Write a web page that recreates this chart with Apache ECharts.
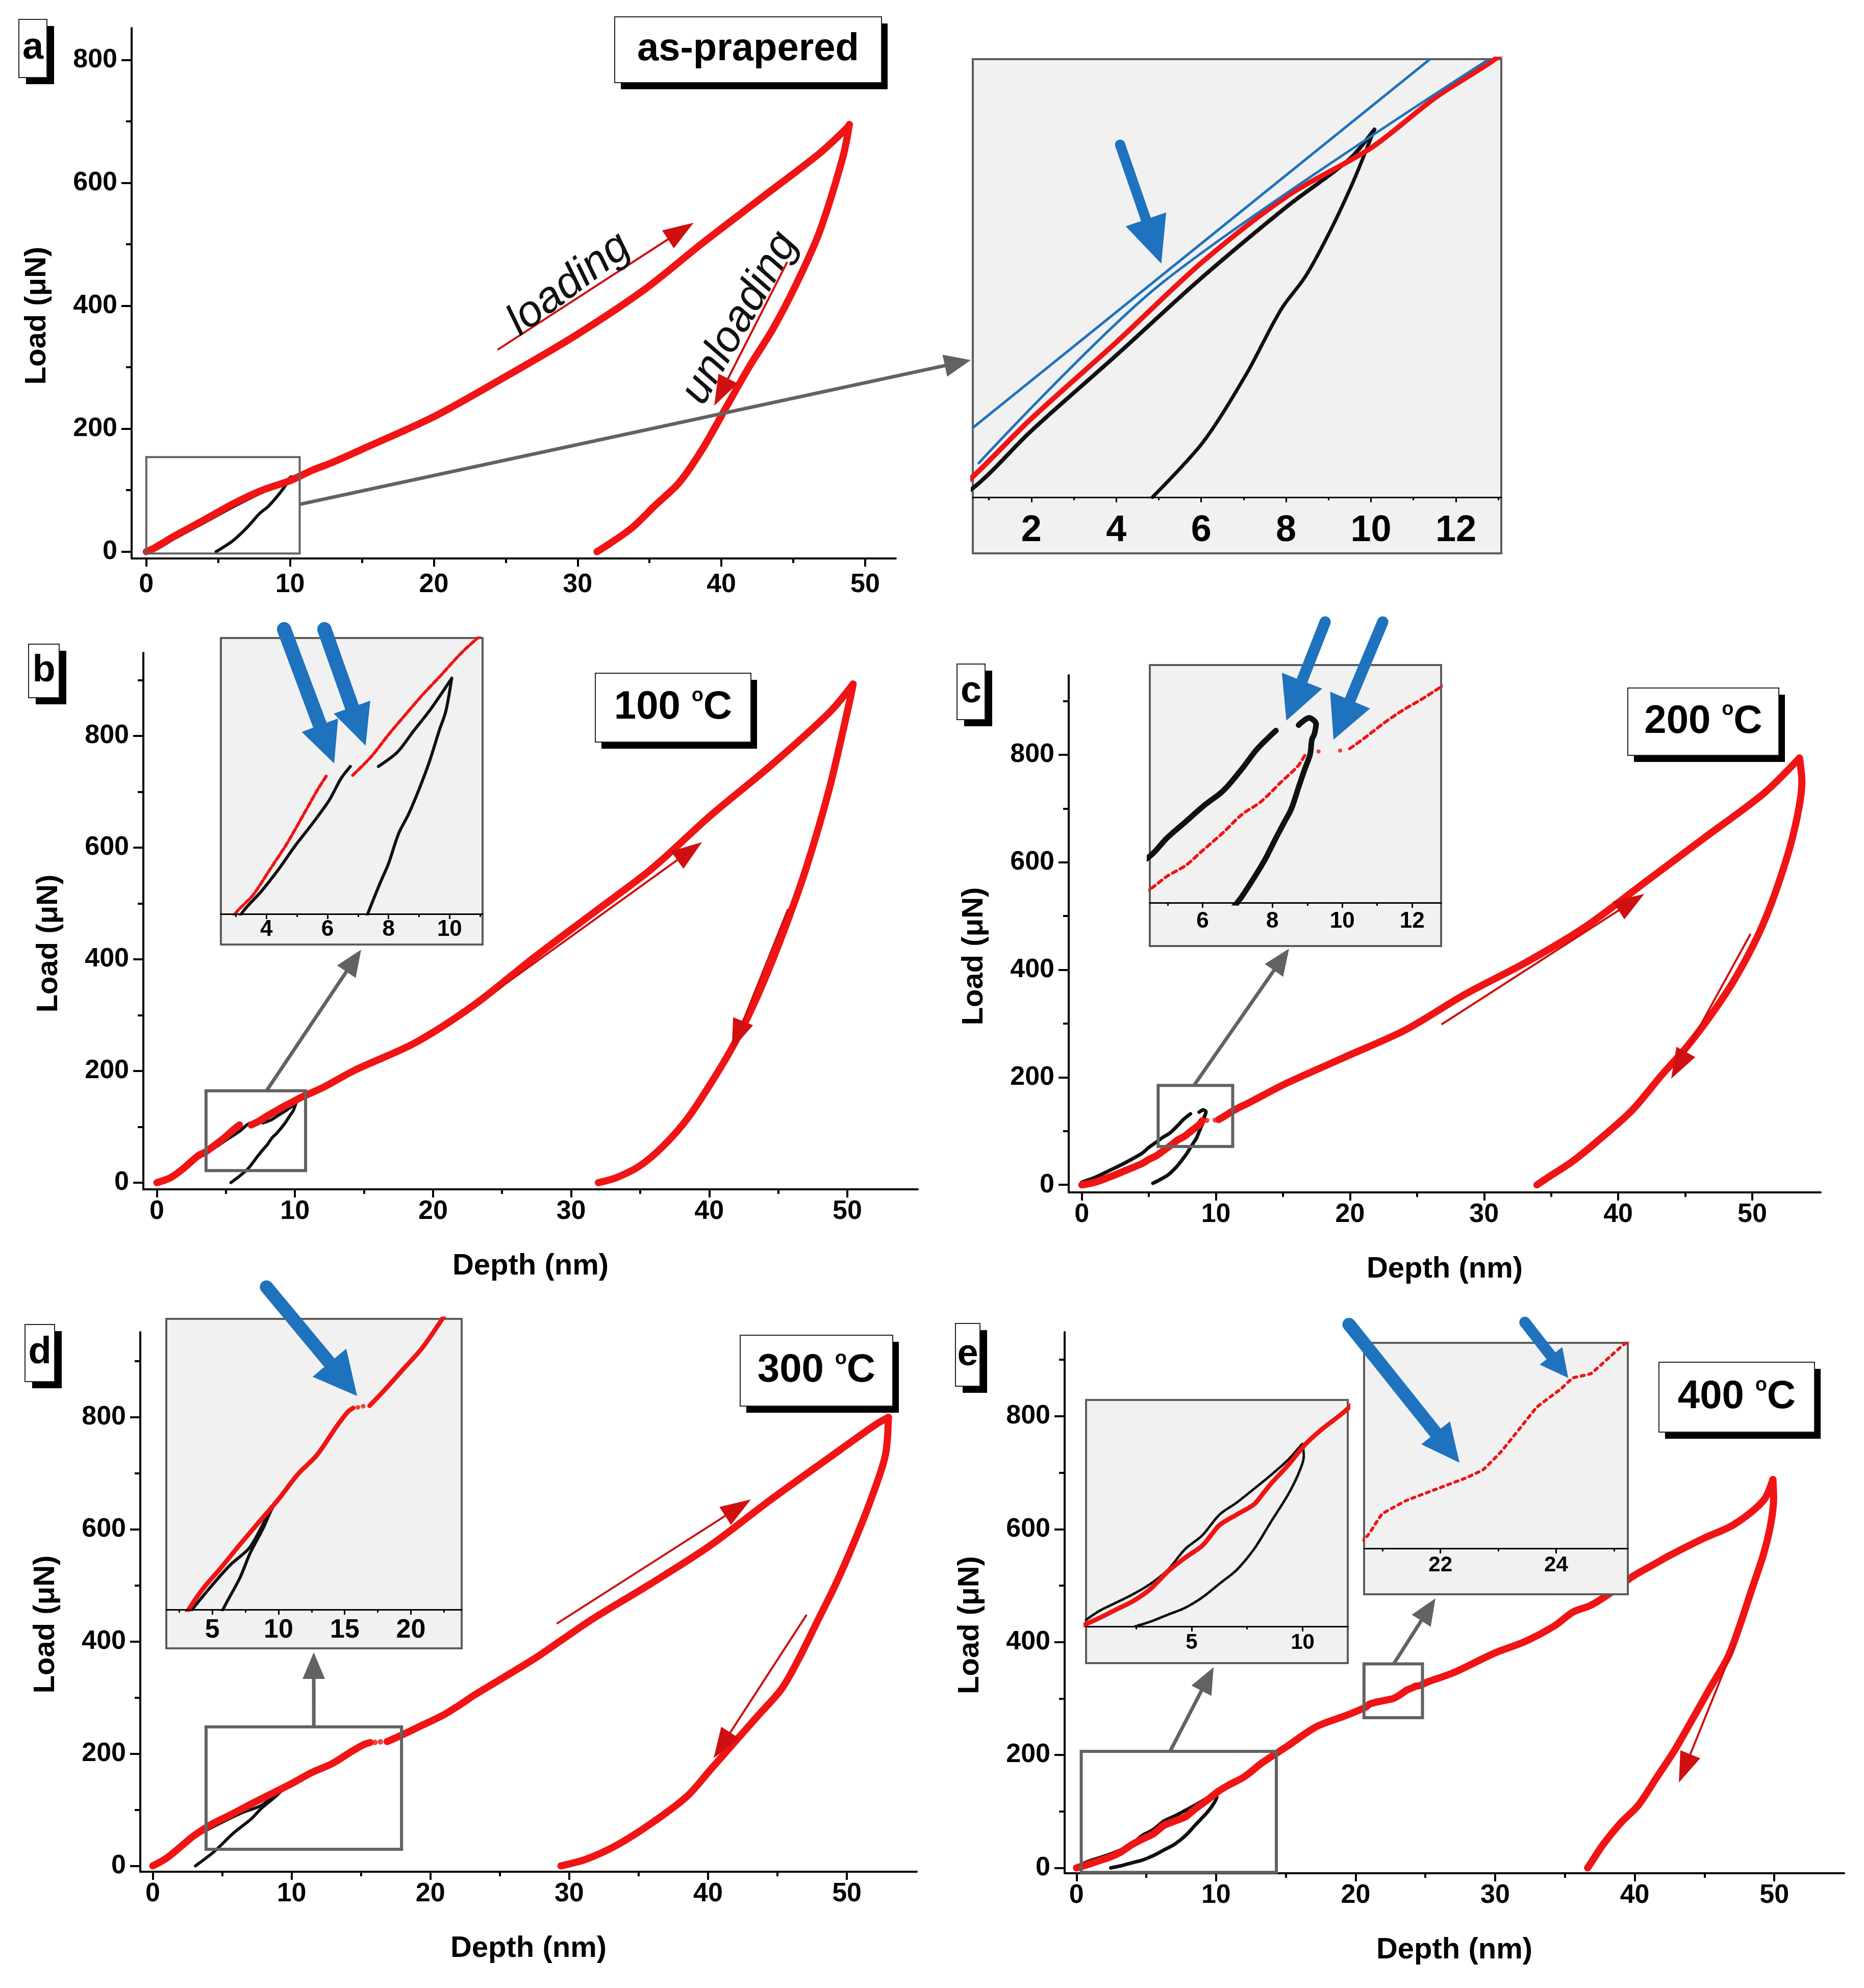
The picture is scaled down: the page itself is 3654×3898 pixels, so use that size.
<!DOCTYPE html>
<html>
<head>
<meta charset="utf-8">
<script src="https://cdn.jsdelivr.net/npm/echarts@6/dist/echarts.min.js"></script>
<style>
html,body{margin:0;padding:0;background:#fff;}
#chart{width:3654px;height:3898px;}
</style>
</head>
<body>
<div id="chart"></div>
<script>
// ---------------- DATA ----------------
// Panel a : as-prapered  [depth nm, load uN]
const aLoadRed = [[0,0],[0.62,6.8],[1.98,25.8],[4.0,51.3],[6.03,77.9],[8.06,100],[10.0,115.6],[11.52,132.3],[12.87,144.5],[15.07,167.3],[19.95,219],[24.84,282.9],[29.72,349.8],[34.61,425.9],[38.68,502],[42.75,575],[46.82,648],[48.78,690.5],[48.9,695]];
const aUnloadRed = [[48.9,695],[48.45,642],[46.82,520],[45.2,435],[43.57,362],[41.94,301],[40.31,234],[38.68,167],[37.05,112],[35.42,76],[33.79,39],[32.16,12],[31.35,0]];
const aLoadBlack = [[0,0],[0.62,3],[2,22],[4,47],[6,72.5],[8,96],[9.5,112],[10.08,121.7]];
const aUnloadBlack = [[10.08,121.7],[10.0,118.9],[9.58,104.4],[9.07,89],[8.47,73.4],[7.88,62.1],[7.04,40.2],[6.03,18],[4.85,0]];
const aFitLine1 = [[0.62,23],[11.39,145]];
const aFitLine2 = [[0.76,11.3],[5.1,71.2],[12.78,145]];

// Panel b : 100 C
const bLoadRed1 = [[0,0],[1,9],[2,27],[2.95,47.6],[3.56,55.5],[4.12,65.8],[4.67,76],[5.23,87.9],[5.67,97.4],[5.98,103.3]];
const bLoadRed2 = [[6.83,103.3],[7.44,110.8],[8.0,119.5],[8.55,127.4],[9.11,135.3],[9.66,142.4],[10.44,152.7],[12,170],[14.38,202],[18.67,250],[22.96,318],[27.25,402],[31.54,482],[35.83,562],[40.12,658],[44.41,746],[48.7,842],[50.42,893]];
const bUnloadRed = [[50.42,893],[50.2,865.5],[48.7,705.7],[47.0,561.8],[45.27,441.9],[43.56,338],[41.84,250],[40.12,178],[38.4,114],[36.69,66],[34.97,30],[33.26,8.8],[31.97,0]];
const bLoadBlack1 = [[0,0],[1,6],[2,23],[3.18,48],[3.84,57.1],[4.4,65.8],[4.95,75.3],[5.5,83.9],[6.06,93.4],[6.45,102.1],[6.75,106.8]];
const bLoadBlack2 = [[7.67,106.8],[8.28,112.4],[8.83,121.1],[9.39,129.8],[10.05,141.6]];
const bUnloadBlack = [[10.07,142],[9.88,129],[9.66,121.1],[9.33,108.4],[8.99,97.4],[8.66,87.9],[8.33,80],[8.0,68.1],[7.72,60.2],[7.33,48.4],[6.6,25],[5.9,10],[5.36,0]];

// Panel c : 200 C
const cLoadRed1 = [[0,0],[1,5],[2,14],[3,24],[4.49,39.6],[4.98,47.1],[5.52,53.5],[6.05,63],[6.59,72.6],[7.13,83.2],[7.67,90.6],[8.21,101.3],[8.75,111.9],[8.97,119.3]];
const cSparseRed = [[9.32,119.9],[9.94,120.4]];
const cLoadRed2 = [[10.21,121.5],[10.64,127.8],[11.18,136.3],[11.72,143.8],[12.26,150.2],[12.83,157.6],[15.26,189],[19.71,238.7],[24.16,288.5],[28.6,354.8],[33.05,412.8],[37.5,479.2],[41.95,562],[46.4,645],[50.85,728],[53.52,794]];
const cUnloadRed = [[53.52,794],[53.7,750],[53.07,653],[51.74,545],[50.4,462.6],[48.62,379.6],[46.85,313.4],[45.07,255.3],[43.29,205.6],[41.06,139.3],[38.84,89.5],[36.61,43.9],[34.83,14.9],[33.94,0]];
const cLoadBlack = [[0,5],[1,14],[2,26],[3,38],[4.49,58.8],[4.98,69.4],[5.52,79],[6.05,88.5],[6.59,97],[7.13,109.8],[7.57,121.5],[8.1,132.1]];
const cUnloadBlack = [[8.75,135.3],[9.05,139.5],[9.25,136],[9.2,130],[9.13,126.8],[9.08,118.3],[8.91,108.7],[8.75,99.1],[8.54,86.4],[8.32,77.9],[8.1,69.4],[7.78,56.6],[7.4,43.9],[7.03,32.7],[6.4,18],[5.7,8],[5.3,3]];

// Panel d : 300 C
const dLoadRed1 = [[0,0],[1,14],[2,34],[2.97,54],[4.2,73.7],[5.65,91.7],[7.1,110.6],[8.55,128.7],[10.0,146.7],[11.45,166.6],[12.9,182.1],[14.35,204.5],[15.22,216.6],[15.65,220]];
const dSparseRed = [[16.0,220.4],[16.4,221.3]];
const dLoadRed2 = [[16.88,221.7],[17.97,233.8],[19.42,251],[20.87,268.2],[22.32,290.5],[23.12,304],[27.39,368],[29.52,404],[31.66,440],[35.92,504],[40.19,572],[44.45,652],[48.72,728],[52.13,788],[52.99,800]];
const dUnloadRed = [[52.99,800],[52.77,732],[51.71,652],[50.43,572],[49.15,500],[47.87,436],[46.59,372],[45.31,316],[43.6,268],[41.89,220],[40.19,172],[38.48,124],[35.92,76],[33.36,36],[31.23,12],[29.4,0]];
const dLoadBlack = [[0,0],[1,13],[2,32],[3.19,54],[4.93,77.1],[6.38,94.3],[7.83,108.1],[9.27,135.6],[9.78,144.2]];
const dUnloadBlack = [[9.78,144.2],[9.42,137.3],[8.84,123.5],[7.83,102.9],[7.1,84],[5.8,58.2],[4.4,25],[3.07,0]];

// Panel e : 400 C
const eLoadRed = [[0,0],[0.83,6.1],[1.6,12.5],[2.38,18.9],[3.16,27.9],[3.93,40.7],[4.71,50.9],[5.48,59.8],[5.87,67.5],[6.26,75.2],[7.03,82.9],[7.81,90.5],[8.2,98.2],[8.58,105.9],[9.36,119.9],[10.14,135.3],[10.91,146.8],[12.03,161.5],[13.33,186.7],[15.04,214.5],[17.18,250],[19.32,270],[20.73,284.8],[20.99,290],[21.4,293.1],[21.92,295.8],[22.43,298.4],[22.74,300.4],[23.05,304.6],[23.36,309.8],[23.67,315],[24.08,319.2],[24.29,321.8],[24.6,322.8],[24.91,326.5],[25.17,329.6],[27.0,345.6],[30.0,381],[32.14,401],[34.27,429],[35.56,453],[36.84,465],[38.12,484.6],[39.83,516],[41.54,540],[42.39,552],[44.96,584],[47.09,608],[49.23,651],[49.9,688]];
const eUnloadRed = [[49.9,688],[49.95,655],[49.75,610],[49.23,556],[48.38,493],[47.52,429],[46.67,373],[45.38,318],[44.1,262],[42.82,207],[41.54,159],[40.26,111],[38.97,79],[37.69,40],[36.84,8],[36.62,0]];
const eLoadBlack = [[0.25,4.9],[0.83,11.3],[1.6,17.6],[2.38,24],[3.16,31.7],[3.93,41.9],[4.71,57.3],[5.48,67.5],[6.26,82.9],[7.03,91.8],[7.81,102],[8.58,112.3],[9.36,123.8],[9.98,135.3]];
const eUnloadBlack = [[10.0,135.3],[10.05,126.3],[9.82,113.6],[9.36,98.2],[8.58,77.7],[7.81,57.3],[7.03,41.9],[6.26,31.7],[5.48,21.5],[4.71,13.8],[3.93,8.7],[3.16,3.6],[2.46,0]];

// Tick labels
const mainXTicks = [0,10,20,30,40,50];
const mainXMinor = [5,15,25,35,45];
const mainYTicks = [0,200,400,600,800];
const mainYMinor = [100,300,500,700,900];
const insetATicks = [2,4,6,8,10,12], insetAMinor = [1,3,5,7,9,11,13];
const insetBTicks = [4,6,8,10], insetBMinor = [3,5,7,9,11];
const insetCTicks = [6,8,10,12], insetCMinor = [5,7,9,11];
const insetDTicks = [5,10,15,20], insetDMinor = [2.5,7.5,12.5,17.5,22.5];
const insetE1Ticks = [5,10], insetE1Minor = [2.5,7.5];
const insetE2Ticks = [22,24], insetE2Minor = [21,23,25];

// Texts
const panelLetters = ['a','b','c','d','e'];
const panelTitles = ['as-prapered','100','200','300','400'];
const yName = 'Load (\u03bcN)';
const xName = 'Depth (nm)';

// ---------------- LAYOUT / STYLE ----------------
const FONT = "'Liberation Sans', Arial, Helvetica, sans-serif";
const RED = '#f01414', DARKRED = '#d01010', BLACK = '#111111', BLUE = '#1f72bd', GRAY = '#626262';
const SM = 0.3;

const MAIN = {
  a:{rect:[258,55,1498,1040], x:[-1.02,52.13], y:[-11,852], xName:null, xMargin:26},
  b:{rect:[281,1280,1518,1052], x:[-0.98,55.1], y:[-12,949], xName:xName, xMargin:18},
  c:{rect:[2095,1324,1474,1014], x:[-0.98,55.1], y:[-14,948], xName:xName, xMargin:18},
  d:{rect:[275,2612,1522,1058], x:[-0.9,55.03], y:[-10.4,952], xName:xName, xMargin:18},
  e:{rect:[2087,2612,1528,1061], x:[-0.85,55], y:[-9.5,949], xName:xName, xMargin:18}
};
const INSET = {
  a:{rect:[1907,116,1036,859], x:[0.62,13.07], y:[0,145], box:[1907,116,2943,1085], fs:72, margin:30, ticks:insetATicks, minor:insetAMinor},
  b:{rect:[433,1251,513,541], x:[2.51,11.08], y:[48,158], box:[433,1251,946,1852], fs:44, margin:9, ticks:insetBTicks, minor:insetBMinor},
  c:{rect:[2254,1304,571,466], x:[4.49,12.83], y:[31.7,170.3], box:[2254,1304,2825,1855], fs:44, margin:15, ticks:insetCTicks, minor:insetCMinor},
  d:{rect:[326,2586,579,570], x:[1.52,23.84], y:[58.2,291.4], box:[326,2586,905,3232], fs:52, margin:15, ticks:insetDTicks, minor:insetDMinor},
  e1:{rect:[2129,2745,513,444], x:[0.25,12.03], y:[0,167.9], box:[2129,2745,2642,3261], fs:42, margin:11, ticks:insetE1Ticks, minor:insetE1Minor},
  e2:{rect:[2674,2633,517,403], x:[20.68,25.24], y:[282,330], box:[2674,2633,3191,3126], fs:42, margin:12, ticks:insetE2Ticks, minor:insetE2Minor}
};

const option = {backgroundColor:'#ffffff', animation:false, grid:[], xAxis:[], yAxis:[], series:[]};

function addAxis(dim, gi, range, majors, minors, st) {
  const arr = dim === 'x' ? option.xAxis : option.yAxis;
  const pos = dim === 'x' ? 'bottom' : 'left';
  const ax = {
    gridIndex: gi, type: 'value', min: range[0], max: range[1], position: pos, z: st.z,
    axisLine: {show: true, onZero: false, lineStyle: {color: '#000', width: st.lw}},
    axisTick: {show: true, inside: false, length: st.tl, lineStyle: {color: '#000', width: st.lw}, customValues: majors},
    axisLabel: {show: true, customValues: majors, margin: st.margin, fontSize: st.fs, fontWeight: 'bold', color: '#000', fontFamily: FONT},
    minorTick: {show: false}, splitLine: {show: false}, splitArea: {show: false}
  };
  if (st.name) {
    ax.name = st.name; ax.nameLocation = 'middle'; ax.nameGap = st.nameGap;
    ax.nameTextStyle = {fontSize: st.nfs, fontWeight: 'bold', color: '#000', fontFamily: FONT, padding: st.namePad || 0};
    if (dim === 'y') ax.nameRotate = 90;
  }
  arr.push(ax);
  const idx = arr.length - 1;
  if (minors && minors.length) {
    arr.push({
      gridIndex: gi, type: 'value', min: range[0], max: range[1], position: pos, z: st.z,
      axisLine: {show: false, onZero: false},
      axisTick: {show: true, inside: false, length: st.mtl, lineStyle: {color: '#000', width: st.lw}, customValues: minors},
      axisLabel: {show: false}, splitLine: {show: false}
    });
  }
  return idx;
}

function addLine(xi, yi, data, color, width, opt) {
  opt = opt || {};
  option.series.push({
    type: 'line', xAxisIndex: xi, yAxisIndex: yi, data: data, silent: true,
    showSymbol: false, symbol: 'none', smooth: opt.smooth === undefined ? SM : opt.smooth,
    lineStyle: {color: color, width: width, type: opt.type || 'solid', cap: 'round', join: 'round'},
    z: opt.z || 2, clip: true, animation: false
  });
}
function addDots(xi, yi, data, color, size, z) {
  option.series.push({type: 'scatter', xAxisIndex: xi, yAxisIndex: yi, data: data, silent: true,
    symbol: 'circle', symbolSize: size, itemStyle: {color: color}, z: z || 2, animation: false});
}

const G = {}; // axis indices
function mainPanel(key) {
  const m = MAIN[key];
  const gi = option.grid.push({left: m.rect[0], top: m.rect[1], width: m.rect[2], height: m.rect[3], show: false}) - 1;
  const xi = addAxis('x', gi, m.x, mainXTicks, mainXMinor, {lw: 4, tl: 16, mtl: 9, fs: 52, margin: m.xMargin, z: 3, name: m.xName, nameGap: 122, nfs: 58});
  const yi = addAxis('y', gi, m.y, mainYTicks, mainYMinor, {lw: 4, tl: 20, mtl: 11, fs: 52, margin: 28, z: 3, name: yName, nameGap: 156, nfs: 58, namePad: [0, 88, 0, 0]});
  G[key] = {gi: gi, xi: xi, yi: yi};
  return G[key];
}
function insetPanel(key) {
  const s = INSET[key];
  const gi = option.grid.push({left: s.rect[0], top: s.rect[1], width: s.rect[2], height: s.rect[3], show: false}) - 1;
  const xi = addAxis('x', gi, s.x, s.ticks, s.minor, {lw: 3, tl: 10, mtl: 6, fs: s.fs, margin: s.margin, z: 12});
  option.yAxis.push({gridIndex: gi, type: 'value', min: s.y[0], max: s.y[1], show: false, splitLine: {show: false}});
  const yi = option.yAxis.length - 1;
  G['i' + key] = {gi: gi, xi: xi, yi: yi};
  return G['i' + key];
}

// Panel a
let A = mainPanel('a');
addLine(A.xi, A.yi, aLoadBlack, BLACK, 6);
addLine(A.xi, A.yi, aUnloadBlack, BLACK, 6);
addLine(A.xi, A.yi, aLoadRed, RED, 14);
addLine(A.xi, A.yi, aUnloadRed, RED, 14);
let IA = insetPanel('a');
addLine(IA.xi, IA.yi, aLoadBlack, BLACK, 8, {z: 10, type: [4, 2]});
addLine(IA.xi, IA.yi, aUnloadBlack, BLACK, 7, {z: 10, type: [4, 2]});
addLine(IA.xi, IA.yi, aLoadRed, RED, 10, {z: 10});
addLine(IA.xi, IA.yi, aFitLine1, BLUE, 5, {z: 11, smooth: 0});
addLine(IA.xi, IA.yi, aFitLine2, BLUE, 5, {z: 11, smooth: 0.3});

// Panel b
let B = mainPanel('b');
[bLoadBlack1, bLoadBlack2, bUnloadBlack].forEach(d => addLine(B.xi, B.yi, d, BLACK, 6));
[bLoadRed1, bLoadRed2, bUnloadRed].forEach(d => addLine(B.xi, B.yi, d, RED, 14));
let IB = insetPanel('b');
[bLoadBlack1, bLoadBlack2, bUnloadBlack].forEach(d => addLine(IB.xi, IB.yi, d, BLACK, 6, {z: 10, type: [5, 2]}));
[bLoadRed1, bLoadRed2].forEach(d => addLine(IB.xi, IB.yi, d, RED, 6, {z: 10, type: [10, 5]}));

// Panel c
let C = mainPanel('c');
[cLoadBlack, cUnloadBlack].forEach(d => addLine(C.xi, C.yi, d, BLACK, 7));
[cLoadRed1, cLoadRed2, cUnloadRed].forEach(d => addLine(C.xi, C.yi, d, RED, 14));
addDots(C.xi, C.yi, cSparseRed, RED, 10);
let IC = insetPanel('c');
[cLoadBlack, cUnloadBlack].forEach(d => addLine(IC.xi, IC.yi, d, BLACK, 11, {z: 10, type: [5, 2]}));
[cLoadRed1, cLoadRed2].forEach(d => addLine(IC.xi, IC.yi, d, RED, 6, {z: 10, type: [9, 8]}));
addDots(IC.xi, IC.yi, cSparseRed, RED, 8, 10);

// Panel d
let D = mainPanel('d');
[dLoadBlack, dUnloadBlack].forEach(d => addLine(D.xi, D.yi, d, BLACK, 6));
[dLoadRed1, dLoadRed2, dUnloadRed].forEach(d => addLine(D.xi, D.yi, d, RED, 14));
addDots(D.xi, D.yi, dSparseRed, RED, 11);
let ID = insetPanel('d');
[dLoadBlack, dUnloadBlack].forEach(d => addLine(ID.xi, ID.yi, d, BLACK, 6, {z: 10}));
[dLoadRed1, dLoadRed2].forEach(d => addLine(ID.xi, ID.yi, d, RED, 9, {z: 10}));
addDots(ID.xi, ID.yi, dSparseRed, RED, 9, 10);

// Panel e
let E = mainPanel('e');
[eLoadBlack, eUnloadBlack].forEach(d => addLine(E.xi, E.yi, d, BLACK, 7, {type: [5, 2]}));
[eLoadRed, eUnloadRed].forEach(d => addLine(E.xi, E.yi, d, RED, 14));
let IE1 = insetPanel('e1');
[eLoadBlack, eUnloadBlack].forEach(d => addLine(IE1.xi, IE1.yi, d, BLACK, 5, {z: 10, type: [5, 3]}));
addLine(IE1.xi, IE1.yi, eLoadRed, RED, 9, {z: 10});
let IE2 = insetPanel('e2');
addLine(IE2.xi, IE2.yi, eLoadRed, RED, 6, {z: 10, type: [6, 9], smooth: 0.1});

const chart = echarts.init(document.getElementById('chart'), null, {renderer: 'canvas', devicePixelRatio: 1});
chart.setOption(option);

// ---------------- ANNOTATIONS ----------------
function toPx(g, pt) { return chart.convertToPixel({xAxisIndex: g.xi, yAxisIndex: g.yi}, pt); }
function arrowEls(p0, p1, w, hl, hw, color, z, roundTail) {
  const dx = p1[0] - p0[0], dy = p1[1] - p0[1], L = Math.hypot(dx, dy);
  const ux = dx / L, uy = dy / L, nx = -uy, ny = ux;
  const bx = p1[0] - ux * hl, by = p1[1] - uy * hl;
  const pts = [[p0[0] + nx * w / 2, p0[1] + ny * w / 2], [bx + nx * w / 2, by + ny * w / 2], [bx + nx * hw / 2, by + ny * hw / 2],
    [p1[0], p1[1]], [bx - nx * hw / 2, by - ny * hw / 2], [bx - nx * w / 2, by - ny * w / 2], [p0[0] - nx * w / 2, p0[1] - ny * w / 2]];
  const els = [{type: 'polygon', z: z, silent: true, shape: {points: pts}, style: {fill: color}}];
  if (roundTail) els.push({type: 'circle', z: z, silent: true, shape: {cx: p0[0], cy: p0[1], r: w / 2}, style: {fill: color}});
  return els;
}
const gfx = [];
// inset backgrounds
Object.keys(INSET).forEach(k => {
  const b = INSET[k].box;
  gfx.push({type: 'rect', z: 5, silent: true, shape: {x: b[0], y: b[1], width: b[2] - b[0], height: b[3] - b[1]},
    style: {fill: '#f1f1f1', stroke: '#5c5c5c', lineWidth: 4}});
});
// zoom boxes in main panels (data coords)
const zoomBoxes = [[G.a, [0, -3, 10.67, 153.9], 4], [G.b, [3.56, 21.6, 10.77, 164.6], 6], [G.c, [5.69, 71.3, 11.25, 184.9], 6],
  [G.d, [3.84, 29.6, 17.92, 248], 6], [G.e, [0.34, -8, 14.32, 206.5], 6], [G.e, [20.6, 266, 24.79, 361.4], 6]];
zoomBoxes.forEach(zb => {
  const p0 = toPx(zb[0], [zb[1][0], zb[1][3]]), p1 = toPx(zb[0], [zb[1][2], zb[1][1]]);
  gfx.push({type: 'rect', z: 6, silent: true, shape: {x: p0[0], y: p0[1], width: p1[0] - p0[0], height: p1[1] - p0[1]},
    style: {fill: 'none', stroke: GRAY, lineWidth: zb[2]}});
});
// connectors (from main data coords to inset frame)
const connectors = [[G.a, [10.67, 77], [1903, 706]], [G.b, [7.94, 164.6], [708, 1862]], [G.c, [8.36, 184.9], [2527, 1860]],
  [G.d, [11.6, 248], [615, 3240]], [G.e, [6.71, 206.5], [2379, 3269]], [G.e, [22.73, 361.4], [2814, 3134]]];
connectors.forEach(c => { arrowEls(toPx(c[0], c[1]), c[2], 7, 52, 44, GRAY, 30).forEach(e => gfx.push(e)); });
// red loading/unloading arrows
const redArrows = [[G.a, [24.43, 328.5], [38.07, 535.3]], [G.a, [44.58, 471.5], [39.5, 237.3]],
  [G.b, [24.68, 346], [39.48, 609.8]], [G.b, [45.71, 489.9], [41.63, 238.2]],
  [G.c, [26.82, 298.4], [41.95, 541.3]], [G.c, [49.87, 466.7], [43.95, 197.3]],
  [G.d, [29.1, 432], [43.09, 653.6]], [G.d, [47.1, 448], [40.4, 192]],
  [G.e, [47.18, 397.2], [43.16, 151]]];
redArrows.forEach(r => { arrowEls(toPx(r[0], r[1]), toPx(r[0], r[2]), 4, 60, 42, DARKRED, 30).forEach(e => gfx.push(e)); });
// blue arrows (inset data coords)
const blueArrows = [[G.ia, [4.09, 116.7], [5.06, 77.3], 20, 92, 84],
  [G.ib, [4.58, 161.5], [6.22, 108], 28, 80, 76], [G.ib, [5.9, 161.5], [7.25, 115.1], 28, 80, 76],
  [G.ic, [9.51, 195.4], [8.4, 137.9], 22, 84, 85], [G.ic, [11.16, 195.4], [9.75, 126.8], 22, 84, 85],
  [G.id, [9.09, 317], [15.94, 229.5], 26, 85, 86],
  [G.ie2, [20.42, 334.3], [22.33, 302], 26, 75, 72], [G.ie2, [23.46, 334.8], [24.21, 321.8], 22, 55, 56]];
blueArrows.forEach(b => { arrowEls(toPx(b[0], b[1]), toPx(b[0], b[2]), b[3], b[4], b[5], BLUE, 40, true).forEach(e => gfx.push(e)); });
// loading / unloading text
const notes = [[G.a, [29.4, 435], 'loading', 37], [G.a, [41.3, 380], 'unloading', 60]];
notes.forEach(n => {
  const p = toPx(n[0], n[1]);
  gfx.push({type: 'text', z: 30, silent: true, x: p[0], y: p[1], rotation: n[3] * Math.PI / 180,
    style: {text: n[2], fill: '#111', fontSize: 86, fontStyle: 'italic', fontFamily: FONT, align: 'center', verticalAlign: 'middle'}});
});
// title boxes
const titleBoxes = [[1205, 33, 1728, 162], [1167, 1320, 1472, 1455], [3191, 1349, 3487, 1481], [1451, 2618, 1750, 2757], [3252, 2671, 3557, 2808]];
titleBoxes.forEach((r, i) => {
  const w = r[2] - r[0], h = r[3] - r[1];
  gfx.push({type: 'rect', z: 20, silent: true, shape: {x: r[0] + 12, y: r[1] + 13, width: w, height: h}, style: {fill: '#000'}});
  gfx.push({type: 'rect', z: 21, silent: true, shape: {x: r[0], y: r[1], width: w, height: h}, style: {fill: '#fff', stroke: '#222', lineWidth: 2}});
  const st = i === 0
    ? {text: panelTitles[i], fill: '#000', fontSize: 76, fontWeight: 'bold', fontFamily: FONT, align: 'center', verticalAlign: 'middle'}
    : {text: '{n|' + panelTitles[i] + ' }{o|o}{n|C}', align: 'center', verticalAlign: 'middle',
       rich: {n: {fontSize: 78, fontWeight: 'bold', fontFamily: FONT, fill: '#000', lineHeight: 84},
              o: {fontSize: 38, fontWeight: 'bold', fontFamily: FONT, fill: '#000', lineHeight: 40, verticalAlign: 'top'}}};
  gfx.push({type: 'text', z: 22, silent: true, x: r[0] + w / 2, y: r[1] + h / 2, style: st});
});
// panel letters
const letterBoxes = [[37, 38, 92, 152], [56, 1263, 116, 1368], [1876, 1302, 1931, 1411], [49, 2597, 107, 2709], [1873, 2595, 1921, 2718]];
letterBoxes.forEach((r, i) => {
  const w = r[2] - r[0], h = r[3] - r[1];
  gfx.push({type: 'rect', z: 20, silent: true, shape: {x: r[0] + 14, y: r[1] + 13, width: w, height: h}, style: {fill: '#000'}});
  gfx.push({type: 'rect', z: 21, silent: true, shape: {x: r[0], y: r[1], width: w, height: h}, style: {fill: '#fff', stroke: '#222', lineWidth: 2}});
  gfx.push({type: 'text', z: 22, silent: true, x: r[0] + w / 2, y: r[1] + h / 2,
    style: {text: panelLetters[i], fill: '#000', fontSize: 74, fontWeight: 'bold', fontFamily: FONT, align: 'center', verticalAlign: 'middle'}});
});
chart.setOption({graphic: {elements: gfx}});
</script>
</body>
</html>
